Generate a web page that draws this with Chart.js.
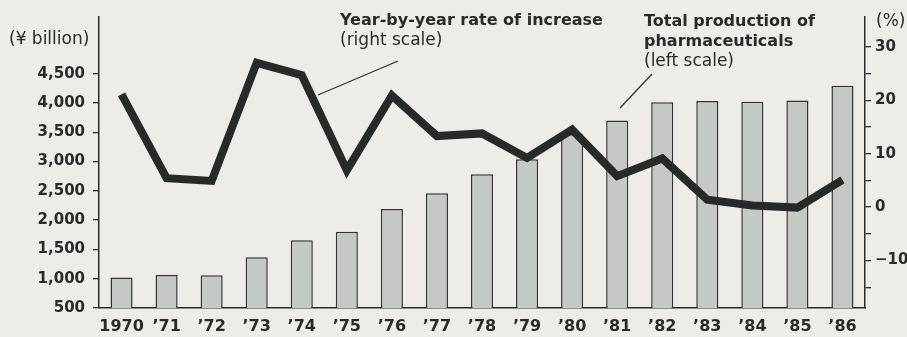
<!DOCTYPE html>
<html>
<head>
<meta charset="utf-8">
<script src="https://cdn.jsdelivr.net/npm/chart.js@4.4.1/dist/chart.umd.min.js"></script>
<style>
  html, body { margin: 0; padding: 0; background: #eeece7; }
  #wrap { width: 907px; height: 337px; }
</style>
</head>
<body>
<div id="wrap"><canvas id="myChart" width="907" height="337"></canvas></div>
<script>
// data
const years = ["1970", "’71", "’72", "’73", "’74", "’75", "’76", "’77", "’78",
    "’79", "’80", "’81", "’82", "’83", "’84", "’85", "’86"];
// total production of pharmaceuticals, ¥ billion (left scale)
const production = [1020, 1065, 1060, 1365, 1655, 1800, 2190, 2460, 2785,
    3040, 3465, 3700, 4010, 4035, 4020, 4040, 4295];
// year-by-year rate of increase, % (right scale)
const rate = [21.1, 5.4, 4.9, 27.0, 24.7, 6.9, 20.9, 13.3, 13.8,
    9.2, 14.5, 5.8, 9.1, 1.4, 0.3, -0.1, 5.1];
const leftTicks = [500, 1000, 1500, 2000, 2500, 3000, 3500, 4000, 4500];
const rightTicks = [-15, -10, -5, 0, 5, 10, 15, 20, 25, 30];
const rightLabels = [-10, 0, 10, 20, 30];

const ink = "#2a2a2a";
const tickFont = { family: "'DejaVu Sans'", size: 15, weight: "bold" };

// titles, unit labels and leader lines
const notes = {
    id: "notes",
    afterDraw(chart) {
        const ctx = chart.ctx;
        ctx.save();
        ctx.fillStyle = ink;
        ctx.textBaseline = "alphabetic";
        ctx.font = "bold 16px 'DejaVu Sans'";
        ctx.fillText("Year-by-year rate of increase", 340, 25);
        ctx.fillText("Total production of", 644, 26);
        ctx.fillText("pharmaceuticals", 644, 46);
        ctx.font = "17px 'DejaVu Sans'";
        ctx.fillText("(right scale)", 340, 45);
        ctx.fillText("(left scale)", 644, 66);
        ctx.fillText("(¥ billion)", 9, 44);
        ctx.fillText("(%)", 876, 26);

        ctx.strokeStyle = "#333";
        ctx.lineWidth = 1.3;
        ctx.beginPath();
        ctx.moveTo(398, 61);
        ctx.lineTo(318, 95);
        ctx.moveTo(652, 74);
        ctx.lineTo(620, 108);
        ctx.stroke();
        ctx.restore();
    },
};

const ctx = document.getElementById("myChart");
new Chart(ctx, {
    data: {
        labels: years,
        datasets: [
            {
                type: "line",
                data: rate,
                yAxisID: "y2",
                order: 0,
                borderColor: "#262a28",
                borderWidth: 8,
                borderJoinStyle: "miter",
                borderCapStyle: "butt",
                pointRadius: 0,
                tension: 0,
            },
            {
                type: "bar",
                data: production,
                yAxisID: "y",
                order: 1,
                backgroundColor: "#c5c9c3",
                borderColor: "#333",
                borderWidth: 1.5,
                categoryPercentage: 1,
                barPercentage: 0.49,
            },
        ],
    },
    options: {
        responsive: false,
        animation: false,
        layout: { padding: { top: 10, left: 0, right: 0, bottom: 0 } },
        plugins: {
            legend: { display: false },
            tooltip: { enabled: false },
        },
        scales: {
            x: {
                grid: { display: false, drawTicks: false },
                border: { display: true, color: ink, width: 1.5 },
                ticks: { color: ink, font: { family: "'DejaVu Sans'", size: 16, weight: "bold" }, padding: 9, maxRotation: 0, autoSkip: false },
                afterFit(scale) { scale.height = 29; },
            },
            y: {
                position: "left",
                min: 500,
                max: 5467,
                grid: { drawOnChartArea: false, drawTicks: true, tickLength: 6, color: ink, lineWidth: 1.3 },
                border: { display: true, color: ink, width: 1.5 },
                ticks: {
                    color: ink,
                    font: tickFont,
                    padding: 8,
                    callback: (v) => v.toLocaleString("en-US"),
                },
                afterBuildTicks(scale) { scale.ticks = leftTicks.map((v) => ({ value: v })); },
                afterFit(scale) { scale.width = 99; },
            },
            y2: {
                position: "right",
                min: -18.9,
                max: 35.6,
                grid: { drawOnChartArea: false, drawTicks: true, tickLength: 6, color: ink, lineWidth: 1.3 },
                border: { display: true, color: ink, width: 1.5 },
                ticks: {
                    color: ink,
                    font: tickFont,
                    padding: 4,
                    callback: (v) => rightLabels.includes(v) ? (v < 0 ? "−" + Math.abs(v) : String(v)) : "",
                },
                afterBuildTicks(scale) { scale.ticks = rightTicks.map((v) => ({ value: v })); },
                afterFit(scale) { scale.width = 42; },
            },
        },
    },
    plugins: [notes],
});
</script>
</body>
</html>
